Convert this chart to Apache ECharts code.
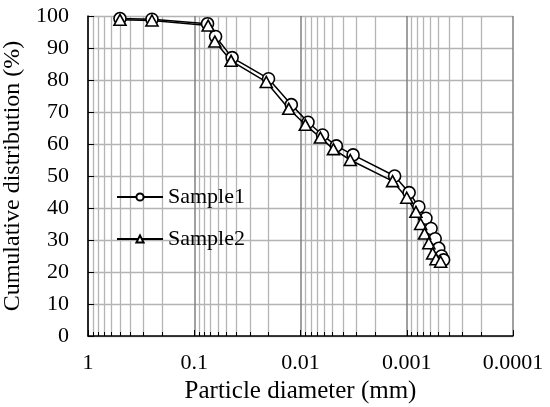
<!DOCTYPE html>
<html>
<head>
<meta charset="utf-8">
<script src="https://cdn.jsdelivr.net/npm/echarts@6/dist/echarts.min.js"></script>
<style>
  html, body { margin: 0; padding: 0; background: #fff; }
  #chart { width: 550px; height: 407px; }
</style>
</head>
<body>
<div id="chart"></div>
<script>
// particle diameter (mm) and cumulative distribution (%)
var dia1 = [0.5, 0.25, 0.075, 0.063, 0.044, 0.02, 0.0122, 0.0085, 0.0062, 0.0046, 0.0032,
            0.0013, 0.00095, 0.00077, 0.00066, 0.00059, 0.00054, 0.0005, 0.00047, 0.00045];
var val1 = [99.2, 99, 97.6, 93.6, 87, 80.4, 72.3, 66.8, 62.8, 59.4, 56.6,
            50, 44.8, 40.4, 36.8, 33.6, 30.4, 27.4, 25, 23.8];
var dia2 = [0.5, 0.25, 0.074, 0.064, 0.045, 0.021, 0.0129, 0.009, 0.0065, 0.0049, 0.0034,
            0.00136, 0.001, 0.00082, 0.00074, 0.00068, 0.00062, 0.00057, 0.00053, 0.00048];
var val2 = [98.8, 98.6, 97, 92, 86, 79.4, 71, 66, 62, 58.4, 55,
            48.4, 43.2, 38.8, 35, 32, 29, 25.8, 24, 23.2];
var xTickLabels = ['1', '0.1', '0.01', '0.001', '0.0001'];
var seriesNames = ['Sample1', 'Sample2'];

var font = 'Liberation Serif';

function pairs(xs, ys) {
    var out = [];
    for (var i = 0; i < xs.length; i++) {
        out.push([xs[i], ys[i]]);
    }
    return out;
}

var chart = echarts.init(document.getElementById('chart'));
var option = {
    animation: false,
    backgroundColor: '#fff',
    grid: {
        left: 88,
        right: 37,
        top: 16,
        bottom: 71,
        outerBoundsMode: 'none'
    },
    legend: {
        orient: 'vertical',
        left: 111,
        top: 181,
        itemWidth: 46,
        itemHeight: 9,
        itemGap: 20,
        textStyle: { fontFamily: font, fontSize: 22, color: '#000' },
        data: seriesNames
    },
    xAxis: {
        type: 'log',
        logBase: 10,
        min: 0.0001,
        max: 1,
        inverse: true,
        name: 'Particle diameter (mm)',
        nameLocation: 'middle',
        nameGap: 38,
        nameTextStyle: { fontFamily: font, fontSize: 25, color: '#000' },
        axisLine: { lineStyle: { color: '#000', width: 1.5 } },
        axisTick: { inside: true, length: 6, lineStyle: { color: '#000' } },
        minorTick: { show: true, splitNumber: 9, length: 4, lineStyle: { color: '#000' } },
        axisLabel: {
            margin: 16,
            fontFamily: font,
            fontSize: 22,
            color: '#000',
            formatter: function (v) {
                var k = Math.round(-Math.log10(v));
                return xTickLabels[k] || '';
            }
        },
        splitLine: { show: true, lineStyle: { color: '#808080', width: 1.5 } },
        minorSplitLine: { show: true, lineStyle: { color: '#b4b4b4', width: 1.3 } }
    },
    yAxis: {
        type: 'value',
        min: 0,
        max: 100,
        interval: 10,
        name: 'Cumulative distribution (%)',
        nameLocation: 'middle',
        nameGap: 57,
        nameTextStyle: { fontFamily: font, fontSize: 24, color: '#000' },
        axisLine: { show: true, lineStyle: { color: '#000', width: 1.5 } },
        axisTick: { show: true, inside: true, length: 6, lineStyle: { color: '#000' } },
        axisLabel: { margin: 19, fontFamily: font, fontSize: 22, color: '#000' },
        splitLine: { show: true, lineStyle: { color: '#b4b4b4', width: 1.3 } }
    },
    series: [
        {
            name: seriesNames[0],
            type: 'line',
            data: pairs(dia1, val1),
            symbol: 'circle',
            symbolSize: 12,
            showAllSymbol: true,
            lineStyle: { color: '#000', width: 1.5 },
            itemStyle: { color: '#fff', borderColor: '#000', borderWidth: 1.6 }
        },
        {
            name: seriesNames[1],
            type: 'line',
            data: pairs(dia2, val2),
            symbol: 'triangle',
            symbolSize: [12, 11],
            showAllSymbol: true,
            lineStyle: { color: '#000', width: 1.5 },
            itemStyle: { color: '#fff', borderColor: '#000', borderWidth: 1.6 }
        }
    ]
};
chart.setOption(option);
</script>
</body>
</html>
